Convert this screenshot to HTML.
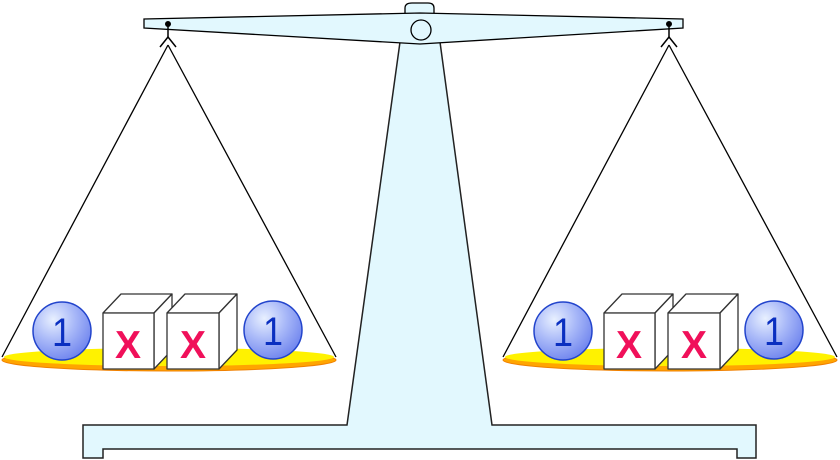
<!DOCTYPE html>
<html><head><style>html,body{margin:0;padding:0;background:#fff}svg{display:block}</style></head>
<body>
<svg width="840" height="460" viewBox="0 0 840 460" xmlns="http://www.w3.org/2000/svg">
<defs>
<radialGradient id="bg" cx="0.35" cy="0.3" r="0.75">
<stop offset="0" stop-color="#e8f0ff"/><stop offset="0.5" stop-color="#a8b8f8"/><stop offset="1" stop-color="#6f84ee"/>
</radialGradient>
<g id="pan">
<line x1="168" y1="45" x2="2" y2="357" stroke="#000" stroke-width="1.3"/>
<line x1="168" y1="45" x2="336" y2="357" stroke="#000" stroke-width="1.3"/>
<ellipse cx="169" cy="360" rx="167" ry="11" fill="#ffa500" stroke="#f08000" stroke-width="1"/>
<ellipse cx="169" cy="357" rx="165" ry="9" fill="#fff200"/>
<circle cx="62" cy="331" r="29" fill="url(#bg)" stroke="#2244cc" stroke-width="1.5"/>
<text x="62" y="346" text-anchor="middle" font-family="Liberation Sans, sans-serif" font-size="40" fill="#0a2fc0" transform="translate(62,0) scale(0.9,1) translate(-62,0)">1</text>
<circle cx="273" cy="330" r="29" fill="url(#bg)" stroke="#2244cc" stroke-width="1.5"/>
<text x="273" y="345" text-anchor="middle" font-family="Liberation Sans, sans-serif" font-size="40" fill="#0a2fc0" transform="translate(273,0) scale(0.9,1) translate(-273,0)">1</text>
<g stroke="#333" stroke-width="1.3" fill="#fff" stroke-linejoin="round">
<path d="M103,313 L121,294 L172,294 L154,313Z"/>
<path d="M154,313 L172,294 L172,350 L154,369Z"/>
<rect x="103" y="313" width="51" height="56"/>
<path d="M167,313 L185,294 L237,294 L219,313Z"/>
<path d="M219,313 L237,294 L237,350 L219,369Z"/>
<rect x="167" y="313" width="52" height="56"/>
</g>
<text x="128" y="358" text-anchor="middle" font-family="Liberation Sans, sans-serif" font-weight="bold" font-size="39" fill="#f0105a">X</text>
<text x="193" y="358" text-anchor="middle" font-family="Liberation Sans, sans-serif" font-weight="bold" font-size="39" fill="#f0105a">X</text>
</g>
</defs>
<path d="M400,42 L440,42 L492,425 L756,425 L756,458 L737,458 L737,449 L103,449 L103,458 L83,458 L83,425 L347,425Z" fill="#e2f8fe" stroke="#222" stroke-width="1.5" stroke-linejoin="miter"/>
<path d="M405,15 L405,8 Q405,3 412,3 L428,3 Q434,3 434,8 L434,15Z" fill="#e2f8fe" stroke="#000" stroke-width="1.3"/>
<path d="M144,19 L420,13 L683,19 L683,28 L420,44 L144,28Z" fill="#e2f8fe" stroke="#000" stroke-width="1.3"/>
<circle cx="421" cy="30" r="10" fill="#e2f8fe" stroke="#000" stroke-width="1.3"/>
<g stroke="#000" stroke-width="1.5" fill="none">
<line x1="168" y1="24" x2="168" y2="37"/><path d="M160,47 L168,37 L176,47"/>
<line x1="669" y1="24" x2="669" y2="37"/><path d="M661,47 L669,37 L677,47"/>
</g>
<circle cx="168" cy="24" r="3" fill="#000"/>
<circle cx="669" cy="24" r="3" fill="#000"/>
<use href="#pan"/>
<use href="#pan" transform="translate(501,0)"/>
</svg>
</body></html>
